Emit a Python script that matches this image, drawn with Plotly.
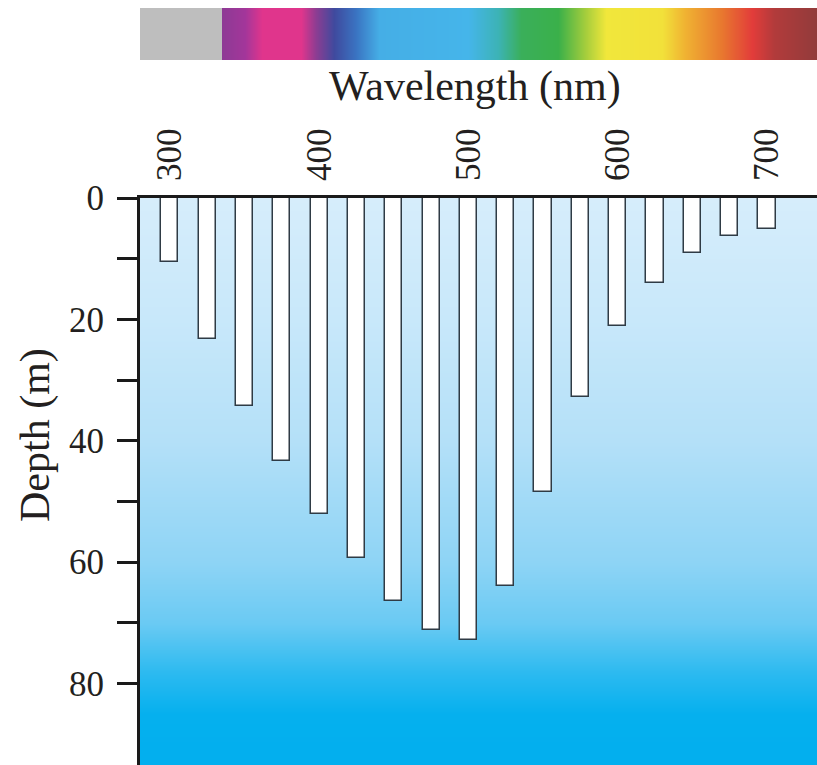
import plotly.graph_objects as go

# ---- data ----
wavelengths = [300, 325, 350, 375, 400, 425, 450, 475, 500, 525, 550, 575, 600, 625, 650, 675, 700]
depths = [10.6, 23.3, 34.3, 43.3, 52.1, 59.3, 66.4, 71.2, 72.8, 63.9, 48.4, 32.8, 21.1, 14.0, 9.1, 6.3, 5.1]

x_ticks = [300, 400, 500, 600, 700]
y_ticks = [0, 10, 20, 30, 40, 50, 60, 70, 80]
y_ticktext = ["0", "", "20", "", "40", "", "60", "", "80"]

# spectrum strip (wavelength stops and colours)
spec_nm = [270, 334, 335, 350, 362, 388, 398, 410, 425, 440, 500, 520, 535, 560, 578, 592, 630, 645, 670, 690, 705, 740]
spec_col = ["#BEBEBE", "#BEBEBE", "#8E3A95", "#A3369A", "#E0358C", "#E0358C", "#8B3D92", "#3F4A9E",
            "#3A74C2", "#45AEE6", "#45B5EA", "#3CB3B5", "#3AAF5A", "#3AB04A", "#A4CD3C", "#F1E73B",
            "#F2E13A", "#F0B232", "#E8772F", "#E23C3A", "#B23B3B", "#8A3B3B"]

# water background gradient (depth stops and colours)
bg_depth = [-5, 0, 20, 40, 60, 70, 78, 85, 100]
bg_col = ["#D6EDFB", "#D6EDFB", "#C8E8FA", "#B4E0F8", "#8ED4F5", "#6ACAF3", "#2DBAF0", "#05B0EE", "#00AEEF"]

FONT = "Liberation Serif"
X_RANGE = [280, 733.5]
Y_RANGE = [93.4, 0]


def scale(vals, cols):
    lo, hi = vals[0], vals[-1]
    return [[(v - lo) / (hi - lo), c] for v, c in zip(vals, cols)]


fig = go.Figure()

# background gradient
fig.add_trace(go.Heatmap(
    x=[270, 745], y=bg_depth, z=[[d, d] for d in bg_depth],
    colorscale=scale(bg_depth, bg_col), zmin=bg_depth[0], zmax=bg_depth[-1],
    zsmooth="best", showscale=False, hoverinfo="skip",
    xaxis="x", yaxis="y",
))

# bars
fig.add_trace(go.Bar(
    x=wavelengths, y=depths, base=0, width=11.5,
    marker=dict(color="white", line=dict(color="#2F3B45", width=1.5)),
    xaxis="x", yaxis="y", showlegend=False,
))

# spectrum strip
fig.add_trace(go.Heatmap(
    x=spec_nm, y=[0, 1], z=[spec_nm, spec_nm],
    colorscale=scale(spec_nm, spec_col), zmin=spec_nm[0], zmax=spec_nm[-1],
    zsmooth="best", showscale=False, hoverinfo="skip",
    xaxis="x", yaxis="y2",
))

H = 765
T = 8
ph = H - T

fig.update_layout(
    width=817, height=H,
    margin=dict(l=140, r=0, t=T, b=0, autoexpand=False),
    paper_bgcolor="white", plot_bgcolor="white",
    showlegend=False,
    bargap=0,
    font=dict(family=FONT, color="#231F20"),
    xaxis=dict(
        range=X_RANGE, side="top", anchor="y", automargin=False,
        tickvals=x_ticks, ticktext=[str(v) for v in x_ticks],
        tickangle=-90, tickfont=dict(size=35, family=FONT),
        ticks="", ticklabelstandoff=7,
        showline=True, linecolor="#1A1A1A", linewidth=3,
        showgrid=False, zeroline=False,
    ),
    yaxis=dict(
        range=Y_RANGE, domain=[0, 567 / ph], anchor="x", automargin=False,
        tickvals=y_ticks, ticktext=y_ticktext,
        tickfont=dict(size=35, family=FONT),
        ticks="outside", ticklen=20, tickwidth=3, tickcolor="#1A1A1A",
        ticklabelstandoff=6,
        showline=True, linecolor="#1A1A1A", linewidth=3,
        showgrid=False, zeroline=False,
    ),
    yaxis2=dict(
        range=[0, 1], domain=[(H - 60) / ph, 1], anchor="x", automargin=False,
        visible=False, showgrid=False, zeroline=False,
    ),
    annotations=[
        dict(text="Wavelength (nm)", xref="paper", yref="paper",
             x=(475 - 140) / 677, y=(H - 87) / ph, xanchor="center", yanchor="middle",
             showarrow=False, font=dict(size=42, family=FONT, color="#231F20")),
        dict(text="Depth (m)", xref="paper", yref="paper",
             x=(35 - 140) / 677, y=(H - 435) / ph, xanchor="center", yanchor="middle",
             textangle=-90, showarrow=False, font=dict(size=42, family=FONT, color="#231F20")),
    ],
)

fig.write_html("out.html")
